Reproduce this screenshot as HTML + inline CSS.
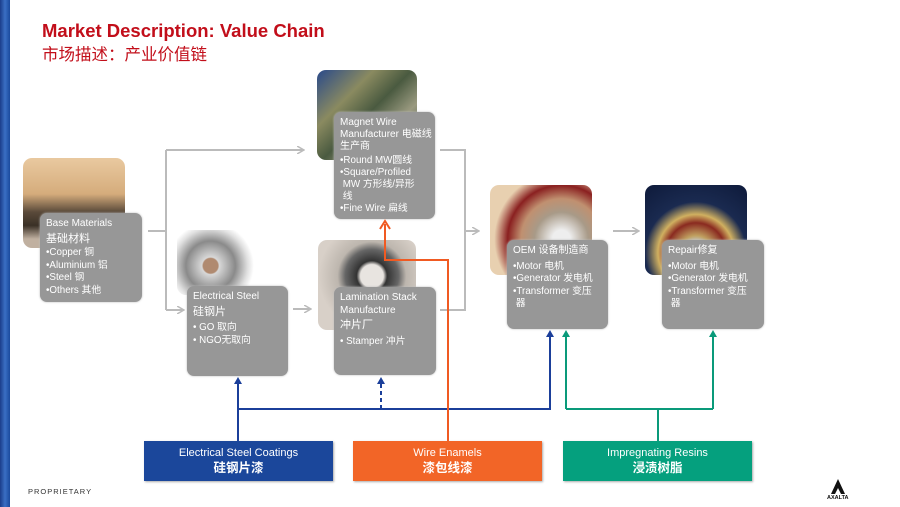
<!DOCTYPE html>
<html><head><meta charset="utf-8"><style>
*{margin:0;padding:0;box-sizing:border-box}
body{width:900px;height:507px;position:relative;background:#fff;overflow:hidden;font-family:"Liberation Sans","Noto Sans CJK SC",sans-serif}
.strip{position:absolute;left:0;top:0;width:10px;height:507px;background:linear-gradient(90deg,#1b3d8a,#3a6fc4 50%,#1a4a9e)}
.t1{position:absolute;left:42px;top:20px;font-size:18.5px;font-weight:bold;color:#c20e1a;white-space:nowrap}
.t2{position:absolute;left:42px;top:41px;font-size:16.5px;color:#c20e1a;white-space:nowrap}
.img{position:absolute;border-radius:9px}
.box{position:absolute;background:#979797;border-radius:7px;color:#fff;font-size:9.8px;line-height:12.5px;padding:5px 5px 5px 6px;box-shadow:0 0 2px #bbb}
.box p{margin-bottom:2px}
.lbl{position:absolute;height:40px;color:#fff;text-align:center;font-size:11px;line-height:15px;padding-top:5px;box-shadow:1px 1px 2px #aaa}
.lbl b{font-size:12.5px}
svg{position:absolute;left:0;top:0}
</style></head><body>
<div class="strip"></div>
<div class="t1">Market Description: Value Chain</div>
<div class="t2">市场描述：产业价值链</div>

<div class="img" style="left:23px;top:158px;width:102px;height:90px;background:linear-gradient(180deg,#e9c9a0 0%,#d5ac7c 40%,#5a4a3a 60%,#3a3026 75%,#c0b0a0 90%)"></div>
<div class="img" style="left:177px;top:230px;width:84px;height:65px;background:radial-gradient(circle at 40% 55%,#b08a70 12%,#d8d8d8 14%,#8a8a8a 40%,#e0e0e0 60%,#fff 70%)"></div>
<div class="img" style="left:318px;top:240px;width:98px;height:90px;background:radial-gradient(circle at 55% 40%,#e8e4e0 15%,#333 20%,#666 35%,#bdb6ae 45%,#d8d0c8 70%)"></div>
<div class="img" style="left:317px;top:70px;width:100px;height:90px;background:linear-gradient(135deg,#2a4a8a,#8a8a60 30%,#4a5a40 50%,#9a9a80 70%,#2a3a2a)"></div>
<div class="img" style="left:490px;top:185px;width:102px;height:90px;background:radial-gradient(circle at 70% 60%,#eee 10%,#a89a88 30%,#c09070 45%,#8a2020 60%,#e8d0b0 75%)"></div>
<div class="img" style="left:645px;top:185px;width:102px;height:90px;background:radial-gradient(circle at 50% 75%,#c8d8f0 10%,#c0a060 20%,#8a2a20 35%,#d0b060 45%,#1a2a50 60%,#0e1a3a)"></div>

<div class="box" style="left:40px;top:213px;width:102px;height:89px"><p style="font-size:10px">Base Materials</p><p style="font-size:11px;margin-bottom:2px">基础材料</p>•Copper 铜<br>•Aluminium 铝<br>•Steel 钢<br>•Others 其他</div>
<div class="box" style="left:187px;top:286px;width:101px;height:90px"><p style="font-size:10px">Electrical Steel</p><p style="font-size:11px;margin-bottom:4px">硅钢片</p>• GO 取向<br>• NGO无取向</div>
<div class="box" style="left:334px;top:287px;width:102px;height:88px"><p style="font-size:10px;margin-bottom:2px">Lamination Stack Manufacture</p><p style="font-size:11px;margin-bottom:4px">冲片厂</p>• Stamper 冲片</div>
<div class="box" style="left:334px;top:112px;width:101px;height:107px;padding-right:3px;line-height:11.8px"><p style="font-size:10px;margin-bottom:3px">Magnet Wire Manufacturer 电磁线生产商</p>•Round MW圆线<br>•Square/Profiled<br>&nbsp;MW 方形线/异形<br>&nbsp;线<br>•Fine Wire 扁线</div>
<div class="box" style="left:507px;top:240px;width:101px;height:89px"><p style="font-size:10px;margin-bottom:3px">OEM 设备制造商</p>•Motor 电机<br>•Generator 发电机<br>•Transformer 变压<br>&nbsp;器</div>
<div class="box" style="left:662px;top:240px;width:102px;height:89px"><p style="font-size:10px;margin-bottom:3px">Repair修复</p>•Motor 电机<br>•Generator 发电机<br>•Transformer 变压<br>&nbsp;器</div>

<svg width="900" height="507">
<defs>
<marker id="g" markerWidth="8" markerHeight="8" refX="6" refY="4" orient="auto" markerUnits="userSpaceOnUse"><path d="M0,0 L7,4 L0,8" fill="none" stroke="#bbb" stroke-width="1.5"/></marker>
</defs>
<g stroke="#bbb" stroke-width="2" fill="none">
<path d="M148,231H166M166,150V310"/>
<path d="M166,150H303" marker-end="url(#g)"/>
<path d="M166,310H183" marker-end="url(#g)"/>
<path d="M293,309H310" marker-end="url(#g)"/>
<path d="M440,150H465V310H440"/>
<path d="M465,231H478" marker-end="url(#g)"/>
<path d="M613,231H638" marker-end="url(#g)"/>
</g>
<g stroke="#1b3f9a" stroke-width="2" fill="none">
<path d="M238,441V380M238,409H550V333"/>
<path d="M381,409V380" stroke-dasharray="4,3"/>
</g>
<path d="M234,384L238,377L242,384Z M377,384L381,377L385,384Z M546,337L550,330L554,337Z" fill="#1b3f9a"/>
<path d="M448,441V260H385V224" stroke="#f05a22" stroke-width="2" fill="none"/>
<path d="M380,229L385,221L390,229" stroke="#f05a22" stroke-width="2" fill="none"/>
<path d="M658,441V409M566,409H713M566,409V334M713,409V334" stroke="#0a9a7a" stroke-width="2" fill="none"/>
<path d="M562,337L566,330L570,337Z M709,337L713,330L717,337Z" fill="#0a9a7a"/>
<path d="M838,479L831,494H835L838,488L841,494H845Z" fill="#111"/>
</svg>

<div class="lbl" style="left:144px;top:441px;width:189px;background:#1b479b">Electrical Steel Coatings<br><b>硅钢片漆</b></div>
<div class="lbl" style="left:353px;top:441px;width:189px;background:#f26527">Wire Enamels<br><b>漆包线漆</b></div>
<div class="lbl" style="left:563px;top:441px;width:189px;background:#05a07e">Impregnating Resins<br><b>浸渍树脂</b></div>
<div style="position:absolute;left:28px;top:487px;font-size:7.5px;letter-spacing:1px;color:#333">PROPRIETARY</div>
<div style="position:absolute;left:827px;top:495px;font-size:5.5px;font-weight:bold;color:#111">AXALTA</div>
</body></html>
